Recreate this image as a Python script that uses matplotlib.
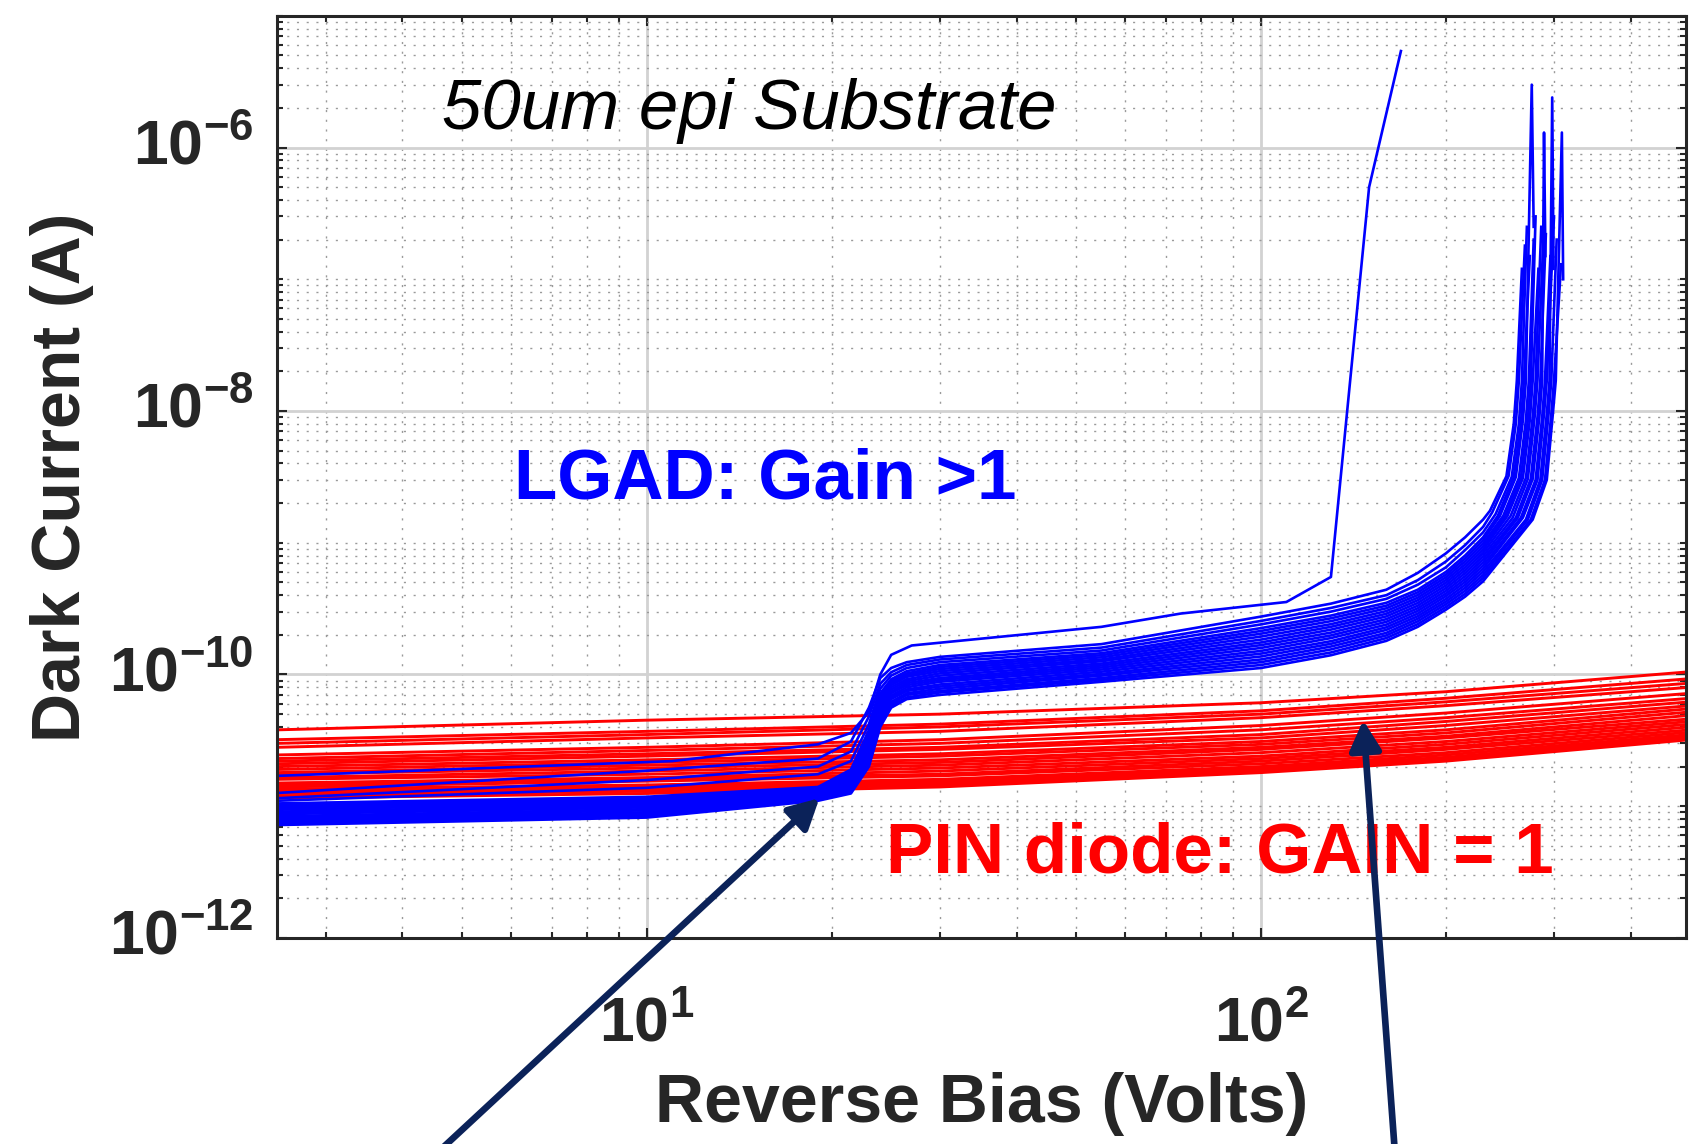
import numpy as np
import matplotlib.pyplot as plt
from matplotlib.ticker import FixedLocator, FixedFormatter, LogLocator, NullFormatter

plt.rcParams['font.family'] = ['Liberation Sans', 'DejaVu Sans']
plt.rcParams['mathtext.fontset'] = 'custom'
plt.rcParams['mathtext.rm'] = 'Liberation Sans'
plt.rcParams['mathtext.bf'] = 'Liberation Sans:bold'
plt.rcParams['mathtext.it'] = 'Liberation Sans:italic'

# PIN diode sweeps, current in pA
pin_v = [2.5, 10, 30, 100, 200, 500]
pin_i = [
    [38, 45, 50, 61, 74, 105],
    [32, 37, 42, 53, 66, 93],
    [30, 35, 40, 50, 62, 86],
    [28, 33, 37, 47, 58, 80],
    [24.5, 28, 32, 41, 51, 72],
    [23, 26.5, 30, 38, 47, 66],
    [22, 25, 28, 35, 44, 62],
    [21, 24, 27, 33, 41, 58],
    [20, 22.5, 25, 31, 38, 55],
    [19, 21.5, 24, 29.5, 36, 52],
    [18, 20.5, 22.5, 28, 34, 49],
    [17.5, 19.5, 21.5, 27, 33, 46],
    [16.5, 18.5, 20.5, 25.5, 31, 44],
    [16, 17.5, 19.5, 24, 29.5, 42],
    [15, 16.5, 18.5, 23, 28, 40],
    [14.5, 16, 17.5, 22, 27, 38],
    [14, 15.5, 17, 21, 25.5, 36.5],
    [13.5, 14.5, 16, 20, 24.5, 35],
    [13, 14, 15.5, 19.5, 23.5, 34],
    [12.5, 13.5, 15, 19, 23, 33],
    [12, 13, 14.5, 18.5, 22.5, 32.5],
    [11.5, 12.5, 14, 18, 22, 32],
]

# LGAD sweeps up to 230 V, current in pA
lgad_v = [2.5, 10, 19, 21.5, 23, 24, 25, 26.5, 30, 55, 100, 130, 160, 180, 200, 215, 230]
lgad_i = [
    [7.2, 8.2, 11.0, 12.5, 20, 40, 56, 65, 70, 88, 112, 140, 180, 230, 310, 390, 510],
    [7.4, 8.4, 11.2, 12.9, 21, 42, 58, 67, 73, 91, 118, 147, 189, 241, 325, 410, 540],
    [7.6, 8.6, 11.4, 13.3, 22, 44, 60, 70, 75, 94, 124, 155, 198, 253, 341, 432, 569],
    [7.8, 8.8, 11.6, 13.7, 23, 45, 62, 72, 78, 98, 130, 163, 207, 265, 357, 455, 602],
    [8.0, 9.0, 11.8, 14.1, 24, 47, 65, 75, 81, 101, 137, 171, 218, 277, 374, 479, 635],
    [8.2, 9.3, 12.0, 14.5, 25, 49, 67, 77, 84, 105, 144, 179, 228, 290, 393, 504, 671],
    [8.4, 9.5, 12.2, 15.0, 26, 51, 69, 80, 88, 109, 151, 189, 239, 304, 411, 530, 709],
    [8.7, 9.8, 12.4, 15.4, 28, 54, 72, 83, 91, 113, 159, 198, 251, 318, 431, 558, 749],
    [8.9, 10.0, 12.6, 15.9, 29, 56, 74, 86, 94, 117, 167, 208, 263, 333, 452, 588, 791],
    [9.1, 10.3, 12.8, 16.4, 30, 58, 77, 89, 98, 121, 175, 219, 276, 349, 474, 619, 836],
    [9.4, 10.6, 13.0, 16.9, 32, 61, 80, 92, 102, 126, 184, 230, 289, 366, 497, 651, 883],
    [9.6, 10.9, 13.2, 17.4, 33, 63, 83, 96, 106, 130, 194, 241, 303, 383, 521, 685, 933],
    [9.9, 11.2, 13.5, 17.9, 35, 66, 86, 99, 110, 135, 204, 254, 318, 401, 546, 722, 985],
    [10.2, 11.5, 13.7, 18.5, 36, 69, 89, 102, 114, 140, 214, 267, 333, 420, 572, 760, 1041],
    [10.5, 11.8, 14.0, 19.0, 38, 72, 92, 106, 118, 145, 225, 280, 350, 440, 600, 800, 1100],
    [11.0, 13.8, 17.5, 22, 42, 78, 98, 112, 124, 152, 240, 300, 375, 480, 650, 880, 1200],
    [11.5, 15.8, 20.0, 26, 48, 85, 104, 118, 130, 160, 255, 320, 400, 520, 720, 960, 1320],
    [12.6, 18.6, 23.0, 31, 56, 94, 112, 124, 136, 170, 275, 345, 440, 590, 830, 1100, 1500],
]

# breakdown end of each LGAD sweep (V, pA)
lgad_tail_v = [
    [277, 292, 299, 302, 309, 310.5],
    [275, 290, 297, 300, 308],
    [272, 287, 294, 297, 303],
    [270, 285, 292, 295, 298, 299.5],
    [267, 282, 289, 292, 300],
    [265, 280, 287, 290, 296],
    [262, 277, 284, 287, 289, 290.5],
    [260, 275, 282, 285, 291],
    [257, 272, 279, 282, 288],
    [255, 270, 277, 280, 286],
    [252, 267, 274, 277, 283],
    [250, 265, 272, 275, 280],
    [248, 263, 270, 273, 278],
    [245, 260, 267, 270, 276, 278],
    [243, 258, 265, 268, 274],
    [241, 256, 263, 266, 271],
    [238, 253, 260, 263, 269],
    [236, 251, 258, 261, 266],
]
lgad_tail_i = [
    [1500, 3000, 1.0e4, 1.7e4, 1.3e6, 1.0e5],
    [1500, 3000, 9500, 1.7e4, 1.3e5],
    [1500, 3000, 9500, 1.7e4, 2.0e5],
    [1500, 3000, 9500, 1.7e4, 2.4e6, 1.2e5],
    [1550, 3000, 9500, 1.7e4, 3.0e5],
    [1550, 3000, 9000, 1.7e4, 1.5e5],
    [1550, 3050, 9000, 1.7e4, 1.3e6, 1.5e5],
    [1550, 3050, 9000, 1.7e4, 2.2e5],
    [1550, 3050, 9000, 1.7e4, 1.8e5],
    [1600, 3100, 9000, 1.7e4, 2.5e5],
    [1600, 3100, 8500, 1.7e4, 1.2e5],
    [1600, 3100, 8500, 1.7e4, 3.0e5],
    [1600, 3100, 8500, 1.7e4, 2.0e5],
    [1600, 3150, 8500, 1.7e4, 3.0e6, 2.5e5],
    [1600, 3150, 8000, 1.7e4, 1.5e5],
    [1650, 3150, 8000, 1.7e4, 2.5e5],
    [1700, 3200, 8000, 1.7e4, 1.8e5],
    [1750, 3200, 8000, 1.7e4, 1.2e5],
]

# one device breaking down early
early_v = [2.5, 11, 19, 21.5, 23, 24, 25, 27, 55, 74, 110, 130, 150, 169]
early_i = [17, 22, 29.5, 36, 52, 100, 141, 166, 230, 290, 355, 550, 5.0e5, 5.4e6]

ytick_vals = [1e-12, 1e-10, 1e-8, 1e-6]
ytick_labels = [r'$\mathbf{10^{-12}}$', r'$\mathbf{10^{-10}}$',
                r'$\mathbf{10^{-8}}$', r'$\mathbf{10^{-6}}$']
xtick_vals = [10, 100]
xtick_labels = [r'$\mathbf{10^{1}}$', r'$\mathbf{10^{2}}$']

axis_col = '#262626'
navy = '#0b2259'
pa = 1e-12

fig = plt.figure(figsize=(16.9, 11.44), dpi=100)
ax = fig.add_axes([0.1639, 0.1801, 0.8337, 0.8061])

for row in pin_i:
    ax.plot(pin_v, np.array(row) * pa, color='#ff0000', lw=2.1)

for row, tv, ti in zip(lgad_i, lgad_tail_v, lgad_tail_i):
    ax.plot(lgad_v + tv, np.array(row + ti) * pa, color='#0000ff', lw=1.9)

ax.plot(early_v, np.array(early_i) * pa, color='#0000ff', lw=1.9)

ax.set_xscale('log')
ax.set_yscale('log')
ax.set_xlim(2.5, 492)
ax.set_ylim(1e-12, 1e-5)

ax.xaxis.set_major_locator(FixedLocator(xtick_vals))
ax.xaxis.set_major_formatter(FixedFormatter(xtick_labels))
ax.xaxis.set_minor_locator(LogLocator(base=10, subs=np.arange(1, 10), numticks=100))
ax.xaxis.set_minor_formatter(NullFormatter())
ax.yaxis.set_major_locator(FixedLocator(ytick_vals))
ax.yaxis.set_major_formatter(FixedFormatter(ytick_labels))
ax.yaxis.set_minor_locator(LogLocator(base=10, subs=np.arange(1, 10), numticks=100))
ax.yaxis.set_minor_formatter(NullFormatter())

ax.set_axisbelow(True)
ax.grid(True, which='major', color='#d2d2d2', lw=2.0, ls='-')
ax.grid(True, which='minor', color='#9a9a9a', lw=1.0, ls=(0, (1.5, 5.5)))

ax.tick_params(which='both', direction='in', top=True, right=True,
               color=axis_col, labelcolor=axis_col, width=1.5)
ax.tick_params(which='major', length=7, labelsize=45)
ax.tick_params(which='minor', length=4.5)
ax.tick_params(axis='x', which='major', pad=41)
ax.tick_params(axis='y', which='major', pad=17)
for lab in ax.get_yticklabels():
    lab.set_va('center')
for sp in ax.spines.values():
    sp.set_color(axis_col)
    sp.set_linewidth(2.2)

ax.set_xlabel('Reverse Bias (Volts)', fontsize=49, fontweight='bold', color=axis_col)
ax.xaxis.set_label_coords(0.5, -0.1805)
ax.xaxis.label.set_va('center')
ax.set_ylabel('Dark Current (A)', fontsize=49, fontweight='bold', color=axis_col)
ax.yaxis.set_label_coords(-0.1526, 0.5)
ax.yaxis.label.set_va('center')

ax.text(0.117, 0.897, '50um epi Substrate', transform=ax.transAxes,
        fontsize=51, fontstyle='italic', color='black', va='center', ha='left')
ax.text(0.168, 0.496, 'LGAD: Gain >1', transform=ax.transAxes,
        fontsize=51, fontweight='bold', color='#0000ff', va='center', ha='left', zorder=5)
ax.text(0.432, 0.091, 'PIN diode: GAIN = 1', transform=ax.transAxes,
        fontsize=51, fontweight='bold', color='#ff0000', va='center', ha='left', zorder=5)

arrow_style = dict(arrowstyle='-|>,head_length=0.6,head_width=0.32', lw=4.8,
                   color=navy, shrinkA=0, shrinkB=0, mutation_scale=30)
ax.annotate('', xy=(19.1, 1.15e-11), xycoords='data', xytext=(436, -10),
            textcoords='figure pixels', arrowprops=arrow_style,
            annotation_clip=False, zorder=10)
ax.annotate('', xy=(146.7, 4.5e-11), xycoords='data', xytext=(1395, -10),
            textcoords='figure pixels', arrowprops=arrow_style,
            annotation_clip=False, zorder=10)

fig.savefig('out.png', dpi=100)
